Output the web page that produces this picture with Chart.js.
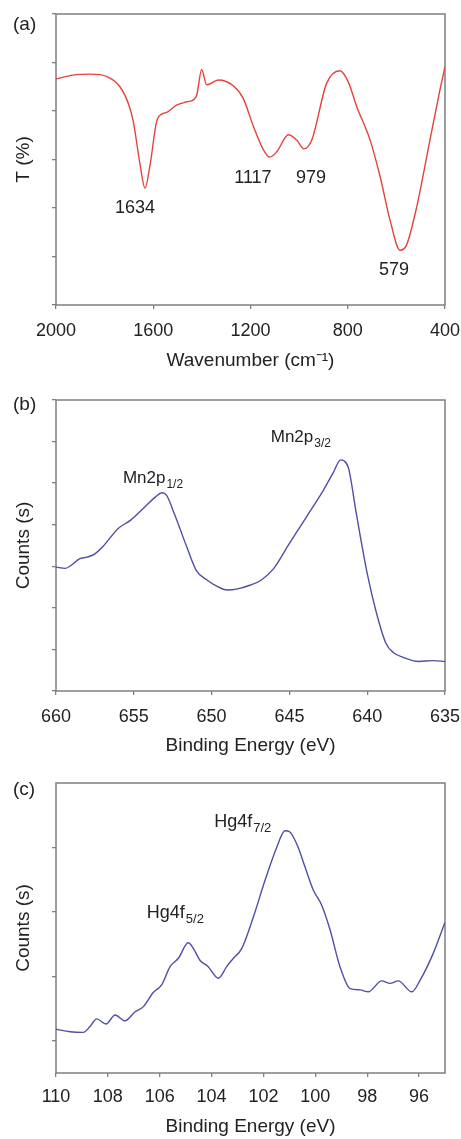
<!DOCTYPE html>
<html><head><meta charset="utf-8">
<script src="https://cdn.jsdelivr.net/npm/chart.js@4"></script>
<style>
html,body{margin:0;padding:0;background:#fff;}
.panel{position:relative;width:461px;}
</style></head><body>
<div class="panel" style="height:375px"><canvas id="ca"></canvas></div>
<div class="panel" style="height:385px"><canvas id="cb"></canvas></div>
<div class="panel" style="height:379px"><canvas id="cc"></canvas></div>
<script>
// ---- (a) FTIR ----
const ftirWavenumber = [2000,1930,1860,1790,1737,1700,1682,1654,1634,1613,1586,1559,1545,1504,1462,1435,1421,1401,1380,1332,1271,1230,1188,1147,1120,1092,1044,1010,980,948,887,832,798,763,708,667,626,585,558,516,462,421,400];
const ftirTransmittance = [4.66,4.74,4.76,4.71,4.50,4.12,3.78,2.89,2.41,2.89,3.78,3.95,3.97,4.12,4.19,4.23,4.33,4.85,4.54,4.64,4.52,4.26,3.68,3.20,3.05,3.16,3.51,3.40,3.22,3.40,4.57,4.83,4.60,4.09,3.40,2.65,1.75,1.13,1.24,2.03,3.40,4.43,4.91];
const ftirXTicks = [2000,1600,1200,800,400];
const ftirYTicks = [0,1,2,3,4,5,6];
const ftirPeakLabels = ["1634","1117","979","579"];
const ftirPeakLabelX = [1675,1190,951,610];
const ftirPeakLabelY = [2.0,2.62,2.62,0.72];

// ---- (b) Mn 2p XPS ----
const mnEnergy = [660,659.4,659,658.5,658,657.5,657,656,655.2,654.4,653.6,653.2,652.9,652.4,651.6,651,650.3,649.7,649,648.4,647.5,646.8,646,645,643.9,642.8,642.2,641.7,641.5,641.2,640.7,640,639.4,638.8,638.3,637.7,636.7,635.8,635];
const mnCounts = [2.98,2.95,3.03,3.18,3.22,3.30,3.47,3.91,4.11,4.39,4.67,4.77,4.71,4.27,3.47,2.91,2.67,2.53,2.43,2.45,2.55,2.67,2.95,3.55,4.19,4.84,5.24,5.56,5.54,5.36,4.27,2.83,1.87,1.15,0.92,0.81,0.71,0.73,0.71];
const mnXTicks = [660,655,650,645,640,635];
const mnYTicks = [0,1,2,3,4,5,6,7];
const mnPeakMain = ["Mn2p","Mn2p"];
const mnPeakSub = ["1/2","3/2"];
const mnPeakX = [655.7,646.2];
const mnPeakY = [5.0,5.99];

// ---- (c) Hg 4f XPS ----
const hgEnergy = [110,109.46,108.95,108.69,108.43,108.07,107.72,107.34,106.95,106.63,106.25,105.92,105.6,105.28,104.9,104.7,104.45,104.13,103.74,103.42,103.16,102.84,102.39,101.94,101.49,101.17,100.98,100.66,100.4,100.08,99.75,99.43,99.05,98.66,98.28,97.96,97.44,97.12,96.8,96.28,95.96,95.45,95];
const hgCounts = [1.18,1.14,1.13,1.22,1.34,1.26,1.40,1.31,1.45,1.53,1.75,1.87,2.15,2.28,2.52,2.43,2.25,2.15,1.97,2.15,2.28,2.43,2.92,3.49,4.00,4.26,4.24,4.00,3.70,3.34,3.10,2.72,2.15,1.81,1.79,1.76,1.93,1.89,1.93,1.76,1.94,2.36,2.84];
const hgXTicks = [110,108,106,104,102,100,98,96];
const hgYTicks = [1,2,3,4];
const hgPeakMain = ["Hg4f","Hg4f"];
const hgPeakSub = ["7/2","5/2"];
const hgPeakX = [103.9,106.5];
const hgPeakY = [4.32,2.90];

const FONT = "'Liberation Sans', Arial, Helvetica, sans-serif";
const TEXT = '#222';
const FRAME = '#7f7f7f';

function decoPlugin(panelLabel, labelY, notes) {
  return {
    id: 'deco',
    beforeDatasetsDraw(chart) {
      const {ctx, chartArea: a} = chart;
      ctx.save();
      ctx.strokeStyle = FRAME;
      ctx.lineWidth = 1.5;
      ctx.strokeRect(a.left, a.top, a.right - a.left, a.bottom - a.top);
      ctx.restore();
    },
    afterDraw(chart) {
      const {ctx} = chart;
      const xs = chart.scales.x, ys = chart.scales.y;
      ctx.save();
      ctx.fillStyle = TEXT;
      ctx.font = '19px ' + FONT;
      ctx.textAlign = 'left';
      ctx.textBaseline = 'middle';
      ctx.fillText(panelLabel, 13, labelY);
      notes.forEach(n => {
        const px = xs.getPixelForValue(n.x), py = ys.getPixelForValue(n.y);
        if (n.sub) {
          ctx.textAlign = 'left';
          ctx.textBaseline = 'alphabetic';
          ctx.font = n.size + 'px ' + FONT;
          ctx.fillText(n.text, px, py);
          const w = ctx.measureText(n.text).width;
          ctx.font = n.subSize + 'px ' + FONT;
          ctx.fillText(n.sub, px + w + 1, py + 5);
        } else {
          ctx.textAlign = 'center';
          ctx.textBaseline = 'middle';
          ctx.font = n.size + 'px ' + FONT;
          ctx.fillText(n.text, px, py);
        }
      });
      ctx.restore();
    }
  };
}

function makeChart(id, cfg) {
  const xTicks = cfg.xTicks, yTicks = cfg.yTicks;
  return new Chart(document.getElementById(id), {
    type: 'line',
    data: {
      datasets: [{
        data: cfg.xs.map((x, i) => ({x: x, y: cfg.ys[i]})),
        borderColor: cfg.color,
        borderWidth: 1.4,
        pointRadius: 0,
        fill: false,
        cubicInterpolationMode: 'monotone'
      }]
    },
    options: {
      responsive: true,
      maintainAspectRatio: false,
      animation: false,
      events: [],
      layout: {padding: {top: cfg.padTop, right: 16, left: 0, bottom: 0}},
      plugins: {legend: {display: false}, tooltip: {enabled: false}},
      scales: {
        x: {
          type: 'linear',
          reverse: true,
          min: cfg.xMin, max: cfg.xMax,
          afterBuildTicks: s => { s.ticks = xTicks.map(v => ({value: v})); },
          afterFit: s => { s.height = cfg.xHeight; s.paddingLeft = 0; s.paddingRight = 0; },
          grid: {display: true, drawOnChartArea: false, drawTicks: true, tickLength: 4, color: FRAME, lineWidth: 1.3},
          border: {display: false},
          ticks: {font: {family: FONT, size: 18}, color: TEXT, padding: cfg.tickPad, maxRotation: 0, autoSkip: false,
                  callback: v => String(v)},
          title: {display: true, text: cfg.xTitle, font: {family: FONT, size: 19}, color: TEXT,
                  padding: {top: 0, bottom: cfg.titlePad}}
        },
        y: {
          type: 'linear',
          min: cfg.yMin, max: cfg.yMax,
          afterBuildTicks: s => { s.ticks = yTicks.map(v => ({value: v})); },
          afterFit: s => { s.width = 56; },
          grid: {display: true, drawOnChartArea: false, drawTicks: true, tickLength: 4, color: FRAME, lineWidth: 1.3},
          border: {display: false},
          ticks: {display: false},
          title: {display: true, text: cfg.yTitle, font: {family: FONT, size: 19}, color: TEXT,
                  padding: {top: 12, bottom: 0}}
        }
      }
    },
    plugins: [decoPlugin(cfg.label, cfg.labelY, cfg.notes)]
  });
}

makeChart('ca', {
  xs: ftirWavenumber, ys: ftirTransmittance, color: '#e5423a',
  xMin: 400, xMax: 2000, yMin: 0, yMax: 6, xTicks: ftirXTicks, yTicks: ftirYTicks,
  padTop: 14, xHeight: 70, tickPad: 11, titlePad: 3,
  xTitle: 'Wavenumber (cm\u207B\u00B9)', yTitle: 'T (%)',
  label: '(a)', labelY: 25,
  notes: ftirPeakLabels.map((t, i) => ({text: t, x: ftirPeakLabelX[i], y: ftirPeakLabelY[i], size: 18}))
});

makeChart('cb', {
  xs: mnEnergy, ys: mnCounts, color: '#4f4fa6',
  xMin: 635, xMax: 660, yMin: 0, yMax: 7, xTicks: mnXTicks, yTicks: mnYTicks,
  padTop: 25, xHeight: 69, tickPad: 11, titlePad: 3,
  xTitle: 'Binding Energy (eV)', yTitle: 'Counts (s)',
  label: '(b)', labelY: 30,
  notes: mnPeakMain.map((t, i) => ({text: t, sub: mnPeakSub[i], x: mnPeakX[i], y: mnPeakY[i], size: 17, subSize: 12}))
});

makeChart('cc', {
  xs: hgEnergy, ys: hgCounts, color: '#4f4fa6',
  xMin: 95, xMax: 110, yMin: 0.5, yMax: 5, xTicks: hgXTicks, yTicks: hgYTicks,
  padTop: 23, xHeight: 66, tickPad: 9, titlePad: 1,
  xTitle: 'Binding Energy (eV)', yTitle: 'Counts (s)',
  label: '(c)', labelY: 30,
  notes: hgPeakMain.map((t, i) => ({text: t, sub: hgPeakSub[i], x: hgPeakX[i], y: hgPeakY[i], size: 18, subSize: 13}))
});
</script>
</body></html>
